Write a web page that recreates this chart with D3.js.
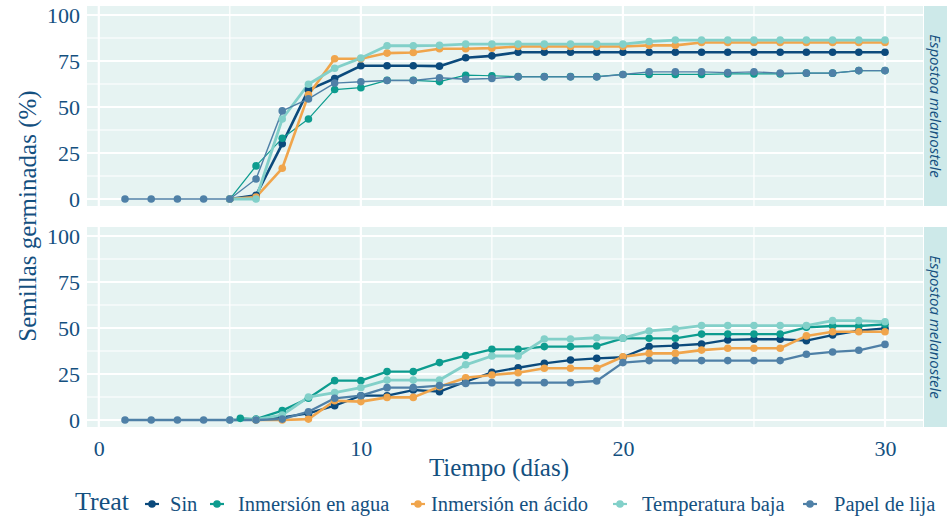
<!DOCTYPE html>
<html>
<head>
<meta charset="utf-8">
<script src="https://cdn.jsdelivr.net/npm/d3@7"></script>
<style>
  body { margin: 0; background: #ffffff; }
  svg { display: block; }
</style>
</head>
<body>
<div class="chart"></div>
<script>
// series names, legend order
var treats = ["Sin", "Inmersión en agua", "Inmersión en ácido", "Temperatura baja", "Papel de lija"];
var colors = ["#0b4a7c", "#0d9c8f", "#f0a54c", "#82d0c9", "#4f80a7"];
var stripLabels = ["Espostoa melanostele", "Espostoa melanostele"];
var xTicks = [0, 10, 20, 30];
var yTicks = [0, 25, 50, 75, 100];

var daysAll = [1,2,3,4,5,6,7,8,9,10,11,12,13,14,15,16,17,18,19,20,21,22,23,24,25,26,27,28,29,30];
var daysFrom5 = [5,6,7,8,9,10,11,12,13,14,15,16,17,18,19,20,21,22,23,24,25,26,27,28,29,30];
var daysFrom6 = [6,7,8,9,10,11,12,13,14,15,16,17,18,19,20,21,22,23,24,25,26,27,28,29,30];
var daysAguaBot = [5.4,6,7,8,9,10,11,12,13,14,15,16,17,18,19,20,21,22,23,24,25,26,27,28,29,30];

// panel 1
var sinTop = [0,2,30,59.3,65.5,72.4,72.4,72.4,72.2,76.8,77.8,79.8,79.8,79.8,79.8,79.8,79.8,79.8,79.8,79.8,79.8,79.8,79.8,79.8,79.8,79.8];
var aguaTop = [0,18,33,43.5,59.5,60.5,64.5,64.5,63.8,67.3,67,66.5,66.5,66.5,66.5,67.7,67.7,67.7,67.7,68,68,68,68.4,68.4,69.8,69.8];
var acidoTop = [0,1,16.7,56.6,76.2,76.2,79.3,79.6,81.7,81.7,82,82.9,82.9,82.9,82.9,82.9,83.5,83.5,85.1,85.1,85.1,85.1,85.1,85.1,85.1,85.1];
var tempTop = [0,0,43.5,62.4,71.1,76.6,83.3,83.3,83.5,84.2,84.2,84.2,84.2,84.2,84.2,84.2,85.6,86.4,86.4,86.4,86.4,86.4,86.4,86.4,86.4,86.4];
var papelTop = [0,0,0,0,0,10.9,47.9,54.4,63,63.7,64.4,64.4,65.9,65.1,65.5,66.4,66.4,66.4,66.4,67.7,69.1,69.1,69.1,68.7,69.1,68.4,68.4,68.4,69.8,69.8];

// panel 2
var sinBot = [0.3,1.4,3.6,7.8,13.2,13.2,16.3,15.4,20.8,25.9,28.4,30.8,32.6,33.5,34.1,39.9,40.4,41.3,43.5,43.9,43.9,43.1,46.2,48.6,49.8];
var aguaBot = [0.9,0.5,5.1,11.8,21.4,21.4,26.3,26.3,31.2,35,38.4,38.4,39.9,39.9,40.2,44.4,44.4,44.4,46.7,46.7,46.7,46.7,50.4,51.1,51.1,52];
var acidoBot = [0,0,0.5,10.5,10,12.3,12.3,18.1,23,24.5,25.7,28.1,28.1,28.1,34.4,36.2,36.2,38,39,39,39,45.7,48,48,48];
var tempBot = [0,0.3,2.7,12.5,14.9,17.6,21.7,21.7,21.7,30,34.8,34.8,44,44,44.7,44.5,48.4,49.5,51.3,51.3,51.3,51.3,51.3,54,54,53.4];
var papelBot = [0,0,0,0,0,0,0.5,4.5,11.8,13.2,17.6,17.6,18.7,19.9,20.3,20.3,20.3,20.3,21.2,31.2,32.3,32.3,32.3,32.3,32.3,32.3,35.7,37,37.9,41.1];

var panels = [
  { top: 6, bottom: 206, widths: [2.6, 1.2, 2.6, 2.8, 1.4],
    series: [[daysFrom5, sinTop], [daysFrom5, aguaTop], [daysFrom5, acidoTop], [daysFrom5, tempTop], [daysAll, papelTop]] },
  { top: 227, bottom: 427, widths: [2.3, 2.3, 2.6, 2.8, 2.3],
    series: [[daysFrom6, sinBot], [daysAguaBot, aguaBot], [daysFrom6, acidoBot], [daysFrom5, tempBot], [daysAll, papelBot]] }
];

var width = 947, height = 519;
var textColor = "#14507f";
var serif = "'Liberation Serif', 'DejaVu Serif', serif";

var svg = d3.select(".chart")
    .append("svg")
    .attr("width", width)
    .attr("height", height);

var x = d3.scaleLinear().domain([-0.45, 31.45]).range([87, 923]);

panels.forEach(function(p, pi) {
    var y = d3.scaleLinear().domain([-3.8, 104.9]).range([p.bottom, p.top]);
    var g = svg.append("g");

    g.append("rect")
        .attr("x", 87).attr("y", p.top)
        .attr("width", 923 - 87).attr("height", p.bottom - p.top)
        .style("fill", "#e6f3f2");

    // minor grid
    g.selectAll(".ymin")
        .data([12.5, 37.5, 62.5, 87.5])
        .enter().append("line")
        .attr("x1", 87).attr("x2", 923)
        .attr("y1", function(d) { return y(d); }).attr("y2", function(d) { return y(d); })
        .style("stroke", "white").style("stroke-width", 1.2);
    g.selectAll(".xmin")
        .data([5, 15, 25])
        .enter().append("line")
        .attr("y1", p.top).attr("y2", p.bottom)
        .attr("x1", function(d) { return x(d); }).attr("x2", function(d) { return x(d); })
        .style("stroke", "white").style("stroke-width", 1.2);
    // major grid
    g.selectAll(".ymaj")
        .data(yTicks)
        .enter().append("line")
        .attr("x1", 87).attr("x2", 923)
        .attr("y1", function(d) { return y(d); }).attr("y2", function(d) { return y(d); })
        .style("stroke", "white").style("stroke-width", 2.2);
    g.selectAll(".xmaj")
        .data(xTicks)
        .enter().append("line")
        .attr("y1", p.top).attr("y2", p.bottom)
        .attr("x1", function(d) { return x(d); }).attr("x2", function(d) { return x(d); })
        .style("stroke", "white").style("stroke-width", 2.2);

    // y tick labels
    var yAxis = d3.axisLeft(y).tickValues(yTicks).tickSize(0).tickPadding(0);
    var ya = g.append("g")
        .attr("transform", "translate(80,0)")
        .call(yAxis);
    ya.select(".domain").remove();
    ya.selectAll("text")
        .style("font-family", serif).style("font-size", "22px")
        .style("fill", textColor).attr("dy", "0.35em");

    // lines first, then points
    var line = d3.line()
        .x(function(d) { return x(d[0]); })
        .y(function(d) { return y(d[1]); });

    p.series.forEach(function(s, i) {
        var pts = s[0].map(function(d, k) { return [d, s[1][k]]; });
        g.append("path")
            .datum(pts)
            .attr("d", line)
            .style("fill", "none")
            .style("stroke", colors[i])
            .style("stroke-width", p.widths[i])
            .style("stroke-linejoin", "round");
    });
    p.series.forEach(function(s, i) {
        var pts = s[0].map(function(d, k) { return [d, s[1][k]]; });
        g.selectAll(".pt" + i)
            .data(pts)
            .enter().append("circle")
            .attr("cx", function(d) { return x(d[0]); })
            .attr("cy", function(d) { return y(d[1]); })
            .attr("r", 3.8)
            .style("fill", colors[i]);
    });

    // strip
    g.append("rect")
        .attr("x", 924).attr("y", p.top)
        .attr("width", 23).attr("height", p.bottom - p.top)
        .style("fill", "#cde9e9");
    g.append("text")
        .attr("transform", "translate(935," + ((p.top + p.bottom) / 2) + ") rotate(90)")
        .attr("text-anchor", "middle")
        .attr("dy", "0.35em")
        .style("font-family", "'Open Sans', sans-serif")
        .style("font-style", "italic")
        .style("font-size", "15px")
        .style("fill", textColor)
        .text(stripLabels[pi]);
});

// x tick labels (bottom panel only)
var xAxis = d3.axisBottom(x).tickValues(xTicks).tickSize(0).tickPadding(0);
var xa = svg.append("g")
    .attr("transform", "translate(0,440)")
    .call(xAxis);
xa.select(".domain").remove();
xa.selectAll("text")
    .style("font-family", serif).style("font-size", "22px")
    .style("fill", textColor).attr("dy", "0.35em").attr("y", 8);

// axis titles
svg.append("text")
    .attr("x", 499).attr("y", 467)
    .attr("text-anchor", "middle").attr("dy", "0.35em")
    .style("font-family", serif).style("font-size", "25px")
    .style("fill", textColor)
    .text("Tiempo (días)");

svg.append("text")
    .attr("transform", "translate(27,216) rotate(-90)")
    .attr("text-anchor", "middle").attr("dy", "0.35em")
    .style("font-family", serif).style("font-size", "25px")
    .style("fill", textColor)
    .text("Semillas germinadas (%)");

// legend
var legend = svg.append("g");
legend.append("text")
    .attr("x", 75).attr("y", 501)
    .attr("dy", "0.35em")
    .style("font-family", serif).style("font-size", "26px")
    .style("fill", textColor)
    .text("Treat");

var keyX = [152, 217, 418, 620, 810];
var labelX = [170, 238, 431, 642, 834];
treats.forEach(function(t, i) {
    legend.append("line")
        .attr("x1", keyX[i] - 7).attr("x2", keyX[i] + 7)
        .attr("y1", 504).attr("y2", 504)
        .style("stroke", colors[i]).style("stroke-width", 2.2);
    legend.append("circle")
        .attr("cx", keyX[i]).attr("cy", 504).attr("r", 3.8)
        .style("fill", colors[i]);
    legend.append("text")
        .attr("x", labelX[i]).attr("y", 504)
        .attr("dy", "0.35em")
        .style("font-family", serif).style("font-size", "20.5px")
        .style("fill", textColor)
        .text(t);
});
</script>
</body>
</html>
